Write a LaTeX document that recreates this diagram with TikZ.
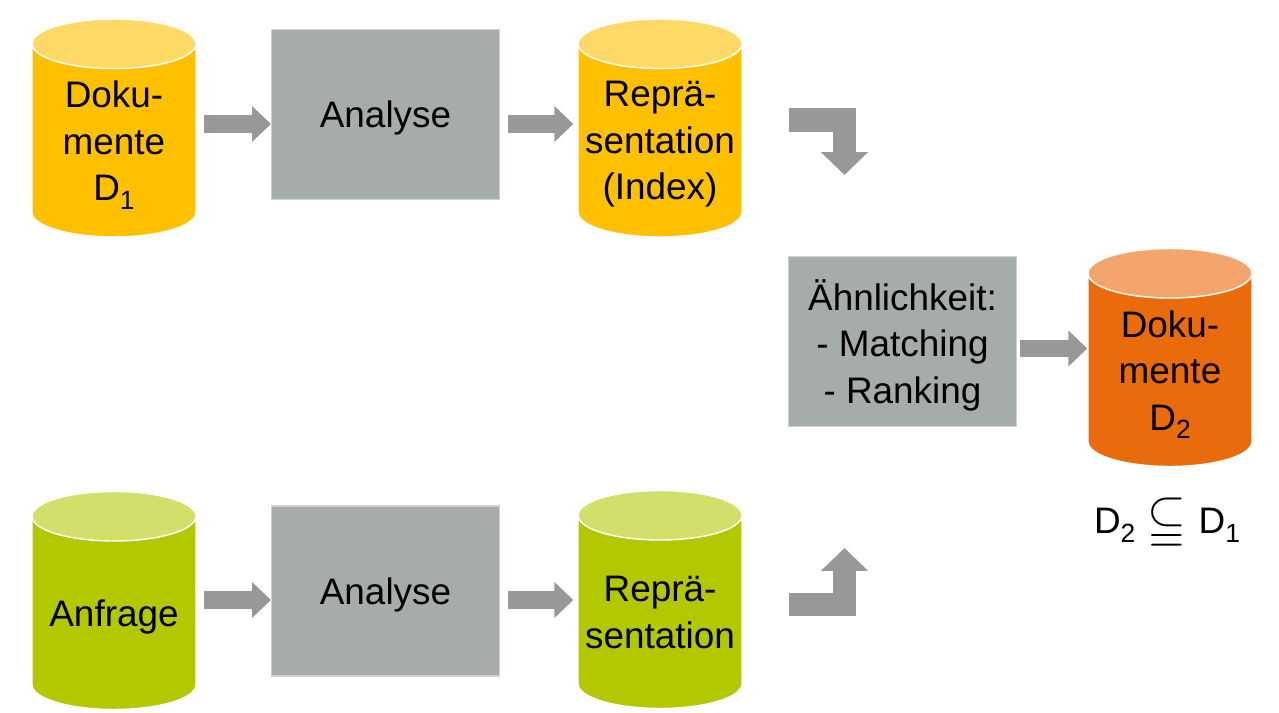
\documentclass[tikz,border=0pt]{standalone}
\usepackage{fontspec}
\usepackage{amssymb}
\usepackage{graphicx}
\setmainfont{Liberation Sans}
\usetikzlibrary{arrows.meta,positioning,shapes.geometric,calc}
\definecolor{docyellow}{HTML}{FFC000}
\definecolor{docyellowtop}{HTML}{FFD966}
\definecolor{hitorange}{HTML}{EA6B0B}
\definecolor{hitorangetop}{HTML}{F4A56C}
\definecolor{querygreen}{HTML}{B3C800}
\definecolor{querygreentop}{HTML}{D2DF6A}
\definecolor{stepgray}{HTML}{A6ACAA}
\definecolor{flowgray}{HTML}{989898}
\newcommand{\lowidx}[1]{\raisebox{-5pt}{\fontsize{15}{15}\selectfont #1}}
\newcommand{\flatline}[1]{\raisebox{0pt}[\height][0pt]{#1}}

\begin{document}
\begin{tikzpicture}[
        x=0.02cm, y=-0.02cm,
        every node/.style={font=\fontsize{21}{26.5}\selectfont, align=center},
        store/.style={cylinder, shape border rotate=90, aspect=0.33, draw=white, line width=0.8pt,
            cylinder uses custom fill, minimum width=3.28cm, minimum height=4.36cm, inner sep=0pt,
            text width=3.0cm, anchor=shape center},
        yellowstore/.style={store, cylinder body fill=docyellow, cylinder end fill=docyellowtop},
        greenstore/.style={store, cylinder body fill=querygreen, cylinder end fill=querygreentop},
        orangestore/.style={store, cylinder body fill=hitorange, cylinder end fill=hitorangetop},
        stepbox/.style={rectangle, fill=stepgray, draw=black!18, line width=0.6pt,
            minimum width=4.56cm, minimum height=3.4cm, inner sep=0pt, text depth=0pt},
        flow/.style={flowgray, line width=0.35cm, -{Triangle[width=0.7cm, length=0.38cm]}},
        bentflow/.style={flowgray, line width=0.47cm, line join=miter,
            -{Triangle[width=0.92cm, length=0.46cm]}}
    ]
    \useasboundingbox (0,0) rectangle (1279,713);

    % === Dokumente row ===
    \node[yellowstore] (docs) at (114,128) {Doku-\\mente\\\flatline{D\lowidx{1}}};
    \node[stepbox] (ana1) at (385.5,114.5) {Analyse};
    \node[yellowstore] (index) at (660,128) {Repr\"a-\\sentation\\\flatline{(Index)}};
    \coordinate (row1) at (0,124);
    \draw[flow, shorten <=0.14cm] (docs.east |- row1) -- (ana1.west |- row1);
    \draw[flow, shorten <=0.16cm, shorten >=0.08cm] (ana1.east |- row1) -- (index.west |- row1);

    % === Anfrage row ===
    \node[greenstore] (query) at (114,600.5) {\flatline{Anfrage}};
    \node[stepbox] (ana2) at (385.5,591) {Analyse};
    \node[greenstore] (qrep) at (660,599.5) {Repr\"a-\\sentation};
    \coordinate (row2) at (0,600);
    \draw[flow, shorten <=0.14cm] (query.east |- row2) -- (ana2.west |- row2);
    \draw[flow, shorten <=0.16cm, shorten >=0.08cm] (ana2.east |- row2) -- (qrep.west |- row2);

    % === Vergleich ===
    \node[stepbox] (match) at (902.5,341.5) {\"Ahnlichkeit:\\- Matching\\- Ranking};
    \node[orangestore] (hits) at (1170,357.5) {Doku-\\mente\\\flatline{D\lowidx{2}}};
    \coordinate (row3) at (0,348.5);
    \draw[flow, shorten <=0.06cm] (match.east |- row3) -- (hits.west |- row3);
    \node[inner sep=0pt, text depth=0pt] (subset) at (1167,516)
        {D\lowidx{2}\,\,\raisebox{-1pt}{\scalebox{1.35}{$\subseteqq$}}\,\,D\lowidx{1}};

    % bent arrows into the matching step
    \coordinate (down0) at (789,120);
    \coordinate (down1) at (844.5,120);
    \coordinate (down2) at (844.5,175);
    \draw[bentflow] (down0) -- (down1) -- (down2);
    \coordinate (up0) at (789,604.5);
    \coordinate (up1) at (844.5,604.5);
    \coordinate (up2) at (844.5,548);
    \draw[bentflow] (up0) -- (up1) -- (up2);

\end{tikzpicture}
\end{document}
